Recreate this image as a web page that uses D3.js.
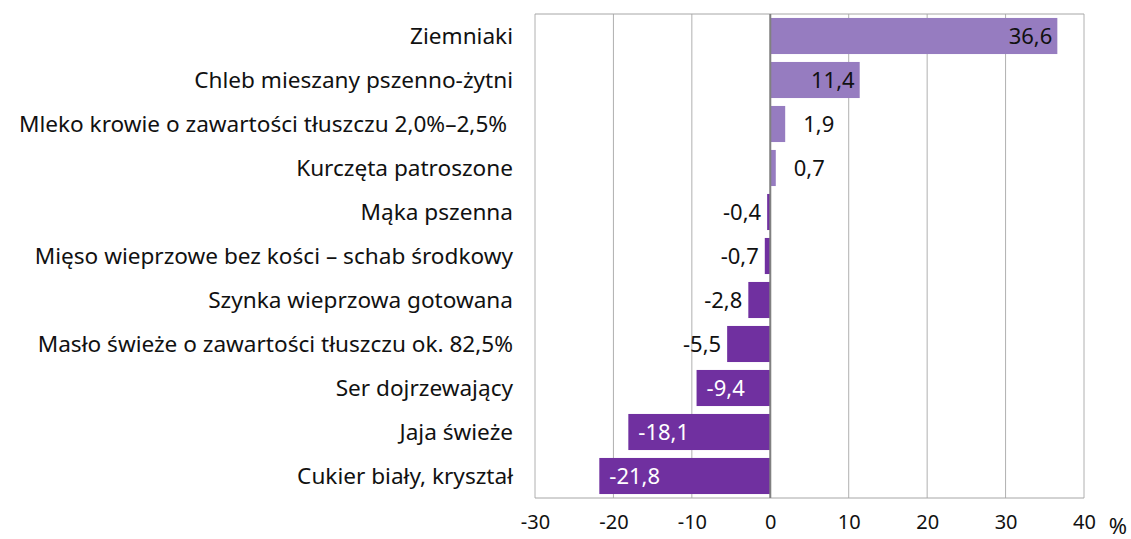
<!DOCTYPE html>
<html>
  <head>
    <meta charset="utf-8">
    <title>Zmiana cen</title>
    <script src="https://cdn.jsdelivr.net/npm/d3@7"></script>
    <style>
      body { margin: 0; background: #fff; }
      svg text { font-family: "Noto Sans", sans-serif; fill: #111; }
      .cat { font-size: 22.6px; text-anchor: end; white-space: pre; }
      .tick text { font-size: 20px; }
      .val { font-size: 22px; }
    </style>
  </head>
  <body>
    <svg class="chart"></svg>
    <script>

    var categories = ["Ziemniaki", "Chleb mieszany pszenno-żytni",
      "Mleko krowie o zawartości tłuszczu 2,0%–2,5% ", "Kurczęta patroszone",
      "Mąka pszenna", "Mięso wieprzowe bez kości – schab środkowy",
      "Szynka wieprzowa gotowana", "Masło świeże o zawartości tłuszczu ok. 82,5%",
      "Ser dojrzewający", "Jaja świeże", "Cukier biały, kryształ"];
    var values = [36.6, 11.4, 1.9, 0.7, -0.4, -0.7, -2.8, -5.5, -9.4, -18.1, -21.8];
    var xTicks = [-30, -20, -10, 0, 10, 20, 30, 40];

    var width = 1131, height = 539;
    var margin = {top: 14, right: 47, bottom: 41, left: 535};

    var svg = d3.select(".chart")
      .attr("width", width)
      .attr("height", height);

    var x = d3.scaleLinear()
      .domain([-30, 40])
      .range([margin.left, width - margin.right]);

    var y = d3.scaleBand()
      .domain(categories)
      .range([margin.top, height - margin.bottom])
      .paddingInner(0.18)
      .paddingOuter(0.09);

    var fmt = function(v) { return String(v.toFixed(1)).replace(".", ","); };

    // gridlines
    svg.append("g")
      .selectAll("line")
      .data(xTicks)
      .enter().append("line")
      .attr("x1", function(d) { return x(d); })
      .attr("x2", function(d) { return x(d); })
      .attr("y1", margin.top)
      .attr("y2", height - margin.bottom)
      .attr("stroke", "#b0b0b0")
      .attr("stroke-width", 1);

    svg.append("line")
      .attr("x1", margin.left).attr("x2", width - margin.right)
      .attr("y1", margin.top).attr("y2", margin.top)
      .attr("stroke", "#a6a6a6");
    svg.append("line")
      .attr("x1", margin.left).attr("x2", width - margin.right)
      .attr("y1", height - margin.bottom).attr("y2", height - margin.bottom)
      .attr("stroke", "#a6a6a6");

    // bars
    svg.append("g")
      .selectAll("rect")
      .data(values)
      .enter().append("rect")
      .attr("x", function(d) { return x(Math.min(0, d)); })
      .attr("y", function(d, i) { return y(categories[i]); })
      .attr("width", function(d) { return Math.abs(x(d) - x(0)); })
      .attr("height", y.bandwidth())
      .attr("fill", function(d) { return d >= 0 ? "#967cc0" : "#7030a0"; });

    // zero line
    svg.append("line")
      .attr("x1", x(0)).attr("x2", x(0))
      .attr("y1", margin.top).attr("y2", height - margin.bottom)
      .attr("stroke", "#808080")
      .attr("stroke-width", 2);

    // category labels
    svg.append("g")
      .selectAll("text")
      .data(categories)
      .enter().append("text")
      .attr("class", "cat")
      .attr("x", margin.left - 22)
      .attr("y", function(d) { return y(d) + y.bandwidth() / 2; })
      .attr("dy", ".35em")
      .text(function(d) { return d; });

    // value labels
    svg.append("g")
      .selectAll("text")
      .data(values)
      .enter().append("text")
      .attr("class", "val")
      .attr("x", function(d) {
        if (d >= 9) return x(d) - 5;
        if (d >= 0) return x(d) + 18;
        if (d <= -9) return x(d) + 10;
        return x(d) - 6;
      })
      .attr("y", function(d, i) { return y(categories[i]) + y.bandwidth() / 2; })
      .attr("dy", ".35em")
      .attr("text-anchor", function(d) { return (d >= 9 || (d < 0 && d > -9)) ? "end" : "start"; })
      .style("fill", function(d) { return d <= -9 ? "#fff" : "#111"; })
      .text(fmt);

    // x axis labels
    var axis = d3.axisBottom(x)
      .tickValues(xTicks)
      .tickSize(0)
      .tickPadding(17)
      .tickFormat(function(d) { return d; });

    var gx = svg.append("g")
      .attr("transform", "translate(0," + (height - margin.bottom) + ")")
      .call(axis);
    gx.select(".domain").remove();
    gx.selectAll("text").style("font-family", "Noto Sans, sans-serif").style("fill", "#111");

    svg.append("text")
      .attr("x", 1118)
      .attr("y", 526)
      .attr("dy", ".35em")
      .attr("text-anchor", "middle")
      .style("font-size", "22px")
      .text("%");

   </script>
  </body>
</html>
